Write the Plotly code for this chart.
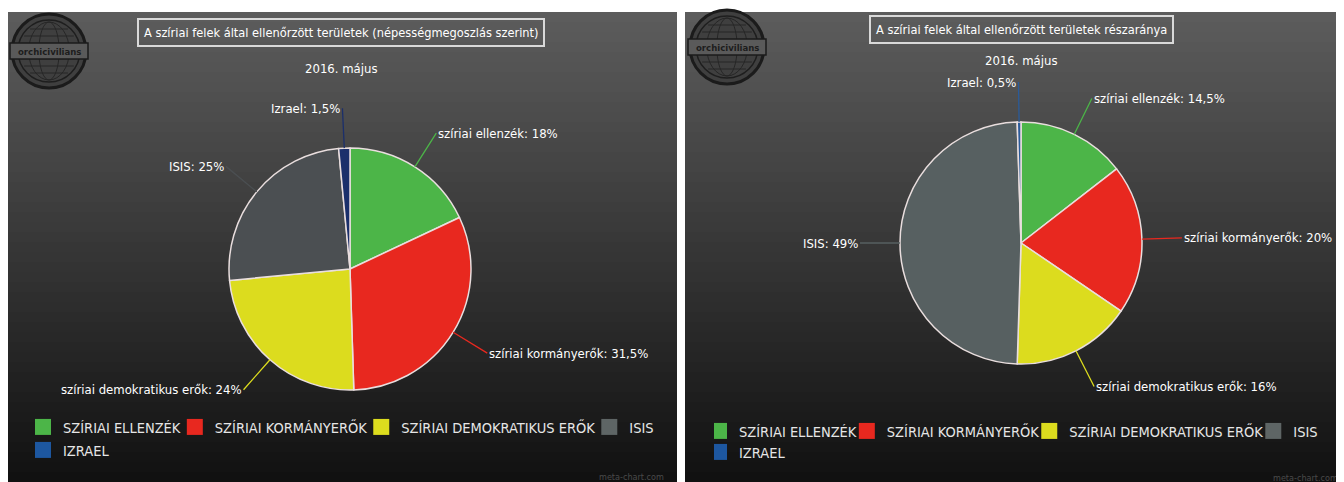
import math
import plotly.graph_objects as go

# The page body has an 8px margin, so the figure is offset by OFF pixels.
OFF = 8
W, H = 1344 - OFF, 482 - OFF

# ---------------- data ----------------
legend_names = ["SZÍRIAI ELLENZÉK", "SZÍRIAI KORMÁNYERŐK", "SZÍRIAI DEMOKRATIKUS ERŐK", "ISIS", "IZRAEL"]
slice_names = ["szíriai ellenzék", "szíriai kormányerők", "szíriai demokratikus erők", "ISIS", "Izrael"]
pop_values = [18, 31.5, 24, 25, 1.5]      # népességmegoszlás szerint (%)
area_values = [14.5, 20, 16, 49, 0.5]     # területi részarány (%)
slice_colors_1 = ["#4cb548", "#e8281f", "#dcdc1e", "#4b4f52", "#1b2f6b"]
slice_colors_2 = ["#4cb548", "#e8281f", "#dcdc1e", "#576061", "#2a5b9a"]
legend_colors = ["#4cb548", "#e8281f", "#dcdc1e", "#5e6565", "#1d57a0"]
titles = ["A szíriai felek által ellenőrzött területek (népességmegoszlás szerint)",
          "A szíriai felek által ellenőrzött területek részaránya"]
subtitle = "2016. május"
watermark = "meta-chart.com"
logo_text = "orchicivilians"

FONT = "Liberation Sans Narrow, Arial Narrow, DejaVu Sans Condensed, Liberation Sans, Arial, sans-serif"

# ---------------- layout geometry (page pixels) ----------------
panels = [
    dict(x0=7, x1=676, y0=12, y1=482, cx=350, cy=269, r=121, title_x=341, title_y=32, sub_y=68,
         logo=(49, 51), leg_x=34, leg_indent=-11, leg_font=14.5, leg_y1=411, leg_y2=434,
         mark_x=666, mark_y=477, values=pop_values, colors=slice_colors_1),
    dict(x0=685, x1=1344, y0=12, y1=482, cx=1021, cy=243, r=121, title_x=1021, title_y=29, sub_y=61,
         logo=(727, 47), leg_x=714, leg_indent=-15, leg_font=14.5, leg_y1=415, leg_y2=436,
         mark_x=1340, mark_y=478, values=area_values, colors=slice_colors_2),
]


def px(x):
    return (x - OFF) / W


def py(y):
    return 1 - (y - OFF) / H


def fmt(v):
    return f"{v:g}".replace(".", ",") + "%"


fig = go.Figure()
shapes = []
annotations = []


def note(x, y, text, size, color, **kw):
    d = dict(x=px(x), y=py(y), xref="paper", yref="paper", showarrow=False, text=text,
             xanchor="center", yanchor="middle", font=dict(family=FONT, size=size, color=color))
    d.update(kw)
    annotations.append(d)


for i, p in enumerate(panels):
    # background gradient
    n = 47
    for k in range(n):
        t = k / (n - 1)
        g = int(round(92 - (92 - 17) * t))
        ya = p["y0"] + (p["y1"] - p["y0"]) * k / n
        yb = p["y0"] + (p["y1"] - p["y0"]) * (k + 1) / n + 0.6
        shapes.append(dict(type="rect", xref="paper", yref="paper", layer="below",
                           x0=px(p["x0"]), x1=px(p["x1"] + 1), y0=py(yb), y1=py(ya),
                           fillcolor=f"rgb({g},{g},{g})", line=dict(width=0)))
    # logo
    lx, ly = p["logo"]
    lr = 37
    shapes.append(dict(type="circle", xref="paper", yref="paper", layer="below",
                       x0=px(lx - lr), x1=px(lx + lr), y0=py(ly + lr), y1=py(ly - lr),
                       fillcolor="#3f3f3f", line=dict(color="#1b1b1b", width=3)))
    shapes.append(dict(type="circle", xref="paper", yref="paper", layer="below",
                       x0=px(lx - lr + 6), x1=px(lx + lr - 6), y0=py(ly + lr - 6), y1=py(ly - lr + 6),
                       line=dict(color="#1e1e1e", width=1.5)))
    for wfac in (0.35, 0.7):
        shapes.append(dict(type="circle", xref="paper", yref="paper", layer="below",
                           x0=px(lx - (lr - 8) * wfac), x1=px(lx + (lr - 8) * wfac),
                           y0=py(ly + lr - 8), y1=py(ly - lr + 8),
                           line=dict(color="#262626", width=1)))
    for dy in (-22, -15, 15, 22):
        half = math.sqrt(max((lr - 8) ** 2 - dy ** 2, 0))
        shapes.append(dict(type="line", xref="paper", yref="paper", layer="below",
                           x0=px(lx - half), x1=px(lx + half), y0=py(ly + dy), y1=py(ly + dy),
                           line=dict(color="#262626", width=1)))
    shapes.append(dict(type="rect", xref="paper", yref="paper", layer="below",
                       x0=px(lx - lr - 2), x1=px(lx + lr + 2), y0=py(ly + 8), y1=py(ly - 8),
                       fillcolor="#5a5a5a", line=dict(color="#1b1b1b", width=1.5)))
    note(lx, ly, f"<b>{logo_text}</b>", 9.5, "#1d1d1d")

    # title, subtitle, watermark
    note(p["title_x"], p["title_y"], titles[i], 12.7, "#ffffff",
         bordercolor="#d9d9d9", borderwidth=2, borderpad=5)
    note(p["title_x"], p["sub_y"], subtitle, 13, "#ffffff")
    note(p["mark_x"], p["mark_y"], watermark, 9, "#4a4a4a", xanchor="right")

    # pie
    cx, cy, r = p["cx"], p["cy"], p["r"]
    fig.add_trace(go.Pie(
        labels=legend_names, values=p["values"], text=slice_names,
        sort=False, direction="clockwise", rotation=0,
        marker=dict(colors=p["colors"], line=dict(color="#e9dede", width=1.5)),
        textinfo="none", hovertemplate="%{text}: %{value}%<extra></extra>",
        showlegend=False,
        domain=dict(x=[px(cx - r), px(cx + r)], y=[py(cy + r), py(cy - r)]),
    ))

    # outside labels with leader lines derived from the values
    total = sum(p["values"])
    cum = 0
    for name, v, c in zip(slice_names, p["values"], p["colors"]):
        mid = (cum + v / 2) / total * 2 * math.pi
        cum += v
        sx, sy = math.sin(mid), -math.cos(mid)
        ex, ey = cx + r * sx, cy + r * sy
        L = 40
        annotations.append(dict(
            x=px(ex), y=py(ey), xref="paper", yref="paper",
            ax=L * sx, ay=L * sy, showarrow=True, arrowhead=0, arrowwidth=1.3,
            arrowcolor=c,
            text=f"{name}: {fmt(v)}", xanchor="left" if sx > 0 else "right", yanchor="middle",
            font=dict(family=FONT, size=13, color="#ffffff"),
        ))

    # legend (two rows) via legend-only entries
    for j, (nm, col) in enumerate(zip(legend_names, legend_colors)):
        idx = 2 * i + (1 if j < 4 else 2)
        leg = "legend" if idx == 1 else f"legend{idx}"
        fig.add_trace(go.Scatter(x=[None], y=[None], mode="markers", name=nm,
                                 marker=dict(symbol="square", size=16, color=col),
                                 legend=leg, hoverinfo="skip"))

layout_legends = {}
names = ["legend", "legend2", "legend3", "legend4"]
for i, p in enumerate(panels):
    common = dict(orientation="h", xanchor="left", yanchor="top", bgcolor="rgba(0,0,0,0)",
                  font=dict(family=FONT, size=p["leg_font"], color="#e6e6e6"),
                  indentation=p["leg_indent"])
    layout_legends[names[2 * i]] = dict(common, x=px(p["leg_x"]), y=py(p["leg_y1"]))
    layout_legends[names[2 * i + 1]] = dict(common, x=px(p["leg_x"]), y=py(p["leg_y2"]))

fig.update_layout(
    width=W, height=H, autosize=False,
    margin=dict(l=0, r=0, t=0, b=0),
    paper_bgcolor="#ffffff", plot_bgcolor="rgba(0,0,0,0)",
    xaxis=dict(visible=False), yaxis=dict(visible=False),
    shapes=shapes, annotations=annotations,
    **layout_legends,
)

fig.write_html("out.html")
